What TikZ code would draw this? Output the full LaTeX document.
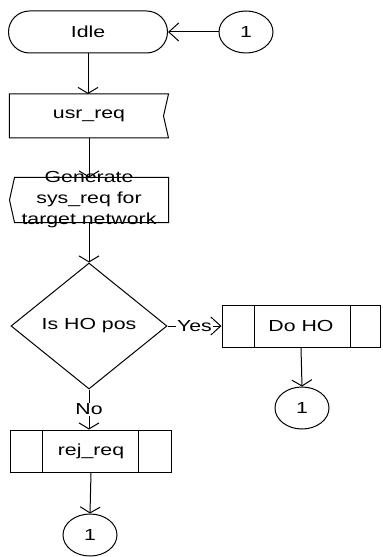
\documentclass[tikz,border=0pt]{standalone}
\usepackage{fontspec}
\setmainfont[FakeStretch=1.33]{Liberation Sans}
\usetikzlibrary{shapes.geometric,shapes.misc,arrows.meta,calc}
\begin{document}
\begin{tikzpicture}[x=1bp,y=1bp,
  every node/.style={font=\fontsize{16bp}{21bp}\selectfont, inner sep=0pt, line width=1bp},
  vconn/.style={line width=1bp, -{Straight Barb[length=6bp,width=20bp,line width=1bp]}},
  hconn/.style={line width=1bp, -{Straight Barb[length=10bp,width=18bp,line width=1bp]}},
  term/.style={rounded rectangle, draw, minimum width=159bp, minimum height=42bp},
  conncircle/.style={ellipse, draw, minimum width=54bp, minimum height=42bp},
  plainbox/.style={rectangle, minimum width=158bp, minimum height=43bp},
  procbox/.style={rectangle, draw, minimum width=158bp, minimum height=42bp},
  decision/.style={diamond, draw, minimum width=156bp, minimum height=126bp, aspect=1.24},
  lbl/.style={fill=white, inner sep=1bp}
]
\useasboundingbox (0,0) rectangle (382,-557);

% nodes
\node[term] (idle) at (88,-32) {Idle};
\node[conncircle] (c1) at (246,-32) {1};
\node[plainbox] (usr) at (89,-116) {usr\_req};
\draw[line width=1bp] (usr.north west) -- (usr.north east) -- ($(usr.east)+(-5,0)$) -- (usr.south east) -- (usr.south west) -- cycle;

\node[plainbox, minimum height=44bp] (gen) at (89,-200) {};
\draw[line width=1bp] ($(gen.north west)+(5,0)$) -- (gen.north east) -- (gen.south east) -- ($(gen.south west)+(5,0)$) -- (gen.west) -- cycle;
\node[align=center] (gentext) at (89,-200) {Generate\\sys\_req for\\target network};

\node[decision] (ho) at (89,-326) {Is HO pos};

\node[procbox] (doho) at (301,-326) {Do HO};
\draw[line width=1bp] ($(doho.north west)+(33,0)$) -- ($(doho.south west)+(33,0)$)
                      ($(doho.north east)+(-30,0)$) -- ($(doho.south east)+(-30,0)$);
\node[conncircle] (c2) at (302,-408) {1};

\node[procbox, minimum width=160bp] (rej) at (91,-451) {rej\_req};
\draw[line width=1bp] ($(rej.north west)+(32,0)$) -- ($(rej.south west)+(32,0)$)
                      ($(rej.north east)+(-33,0)$) -- ($(rej.south east)+(-33,0)$);
\node[conncircle] (c3) at (90,-535) {1};

% connectors
\draw[hconn] (c1.west) -- (idle.east);
\draw[vconn] (idle.south) -- (idle.south |- usr.north);
\draw[vconn] (usr.south) -- (usr.south |- gen.north);
\draw[vconn] (gen.south) -- (gen.south |- ho.north);
\draw[hconn] (ho.east) -- node[lbl] {Yes} (doho.west);
\draw[vconn] (doho.south) -- (c2.north);
\draw[vconn] (ho.south) -- node[lbl] {No} (ho.south |- rej.north);
\draw[vconn] (rej.south) -- (c3.north);
\end{tikzpicture}
\end{document}
